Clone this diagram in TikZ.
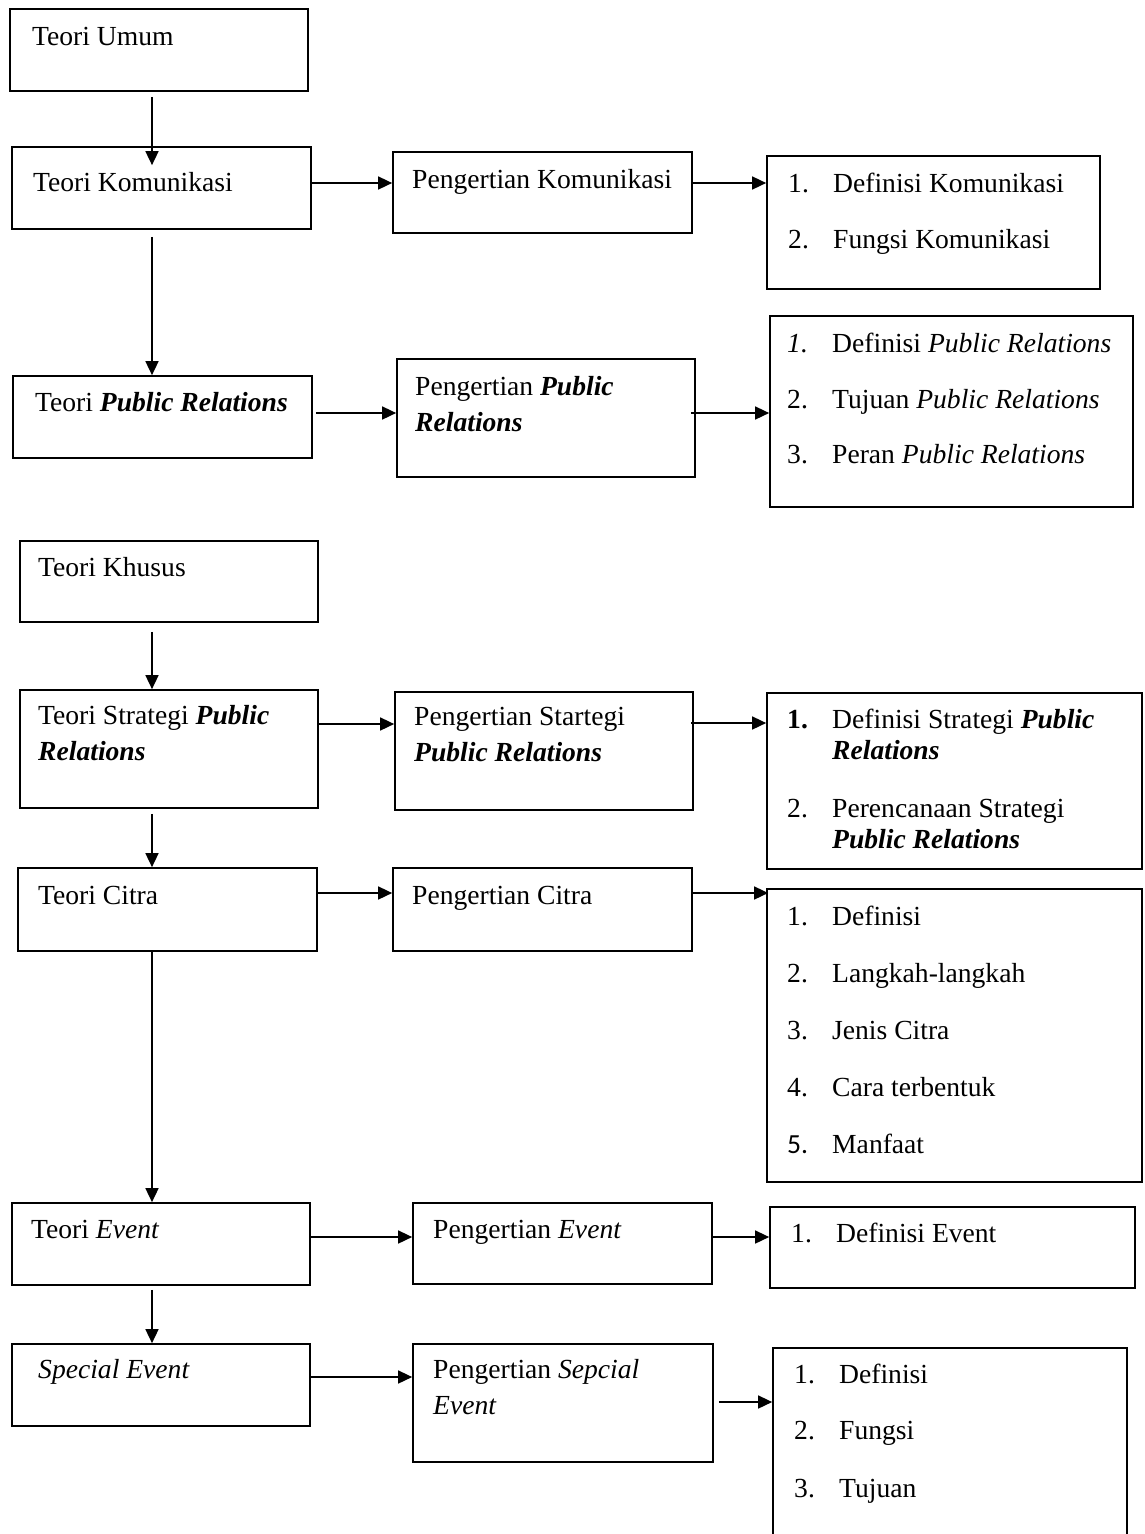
\documentclass[tikz,border=0pt]{standalone}
\usepackage{fontspec}
\setmainfont{Liberation Serif}
\newfontfamily\angkasans{Carlito}
\usepackage{tikz}
\usetikzlibrary{arrows.meta, fit}

\newcommand{\dua}[2]{\begin{tabular}[t]{@{}l@{}}#1\\[5pt]#2\end{tabular}}
\newcommand{\nomor}[1]{\makebox[45pt][l]{#1}}
\newcommand{\bipr}{\textbf{\textit{Public Relations}}}

\begin{document}
\begin{tikzpicture}[x=1pt, y=-1pt, font=\fontsize{27.6}{31}\selectfont,
    >={Triangle[length=14pt, width=13pt]},
    kotak/.style={draw, line width=1.7pt, inner sep=0pt},
    teks/.style={anchor=base west, inner sep=0pt},
    panah/.style={->, line width=1.6pt}]
  \useasboundingbox (0,0) rectangle (1144,1534);

  % kotak-kotak
  \foreach \nm/\xa/\ya/\xb/\yb in {tu/10/9/308/91, tk/12/147/311/229, pk/393/152/692/233, lk/767/156/1100/289,
      tpr/13/376/312/458, ppr/397/359/695/477, lpr/770/316/1133/507,
      tks/20/541/318/622, tspr/20/690/318/808, pspr/395/692/693/810, lspr/767/693/1142/869,
      tc/18/868/317/951, pc/393/868/692/951, lc/767/889/1142/1182,
      te/12/1203/310/1285, pe/413/1203/712/1284, le/770/1207/1135/1288,
      tse/12/1344/310/1426, pse/413/1344/713/1462, lse/773/1348/1127/1560}
    \node[kotak, fit={(\xa,\ya) (\xb,\yb)}] (\nm) {};

  % teks
  \node[teks] (tu-t) at (32,45) {Teori Umum};
  \node[teks] (tk-t) at (33,191) {Teori Komunikasi};
  \node[teks] (pk-t) at (412,188) {Pengertian Komunikasi};
  \node[teks] (lk-t) at (788,192) {\begin{tabular}[t]{@{}l@{}l@{}}
      \nomor{1.}&Definisi Komunikasi\\[25pt]
      \nomor{2.}&Fungsi Komunikasi\end{tabular}};

  \node[teks] (tpr-t) at (35,411) {Teori \bipr};
  \node[teks] (ppr-t) at (415,395) {\dua{Pengertian \textbf{\textit{Public}}}{\textbf{\textit{Relations}}}};
  \node[teks] (lpr-t) at (787,352) {\begin{tabular}[t]{@{}l@{}l@{}}
      \nomor{\textit{1.}}&Definisi \textit{Public Relations}\\[25pt]
      \nomor{2.}&Tujuan \textit{Public Relations}\\[24pt]
      \nomor{3.}&Peran \textit{Public Relations}\end{tabular}};

  \node[teks] (tks-t) at (38,576) {Teori Khusus};
  \node[teks] (tspr-t) at (38,724) {\dua{Teori Strategi \textbf{\textit{Public}}}{\textbf{\textit{Relations}}}};
  \node[teks] (pspr-t) at (414,725) {\dua{Pengertian Startegi}{\bipr}};
  \node[teks] (lspr-t) at (787,728) {\begin{tabular}[t]{@{}l@{}l@{}}
      \nomor{\textbf{1.}}&Definisi Strategi \textbf{\textit{Public}}\\
      &\textbf{\textit{Relations}}\\[27pt]
      \nomor{2.}&Perencanaan Strategi\\
      &\bipr\end{tabular}};

  \node[teks] (tc-t) at (38,904) {Teori Citra};
  \node[teks] (pc-t) at (412,904) {Pengertian Citra};
  \node[teks] (lc-t) at (787,925) {\begin{tabular}[t]{@{}l@{}l@{}}
      \nomor{1.}&Definisi\\[26pt]
      \nomor{2.}&Langkah-langkah\\[26pt]
      \nomor{3.}&Jenis Citra\\[26pt]
      \nomor{4.}&Cara terbentuk\\[26pt]
      \nomor{\angkasans 5.}&Manfaat\end{tabular}};

  \node[teks] (te-t) at (31,1238) {Teori \textit{Event}};
  \node[teks] (pe-t) at (433,1238) {Pengertian \textit{Event}};
  \node[teks] (le-t) at (791,1242) {\nomor{1.}Definisi Event};

  \node[teks] (tse-t) at (38,1378) {\textit{Special Event}};
  \node[teks] (pse-t) at (433,1378) {\dua{Pengertian \textit{Sepcial}}{\textit{Event}}};
  \node[teks] (lse-t) at (794,1383) {\begin{tabular}[t]{@{}l@{}l@{}}
      \nomor{1.}&Definisi\\[25pt]
      \nomor{2.}&Fungsi\\[27pt]
      \nomor{3.}&Tujuan\end{tabular}};

  % panah ke bawah
  \foreach \a/\b/\s/\e in {tu/tk/-5pt/-19pt, tk/tpr/-7pt/0pt, tks/tspr/-9pt/0pt,
      tspr/tc/-5pt/0pt, tc/te/0pt/0pt, te/tse/-4pt/0pt}
    \draw[panah] ([yshift=\s]\a.south -| 152,0) -- ([yshift=\e]\b.north -| 152,0);

  % panah ke kanan
  \foreach \a/\b/\y/\s/\e in {tk/pk/183/0pt/0pt, pk/lk/183/0pt/0pt,
      tpr/ppr/413/3pt/0pt, ppr/lpr/413/-5pt/0pt,
      tspr/pspr/724/0pt/0pt, pspr/lspr/723/-3pt/0pt,
      tc/pc/893/0pt/0pt, pc/lc/893/0pt/2pt,
      te/pe/1237/0pt/0pt, pe/le/1237/0pt/0pt,
      tse/pse/1377/0pt/0pt, pse/lse/1402/5pt/0pt}
    \draw[panah] ([xshift=\s]\a.east |- 0,\y) -- ([xshift=\e]\b.west |- 0,\y);
\end{tikzpicture}
\end{document}
